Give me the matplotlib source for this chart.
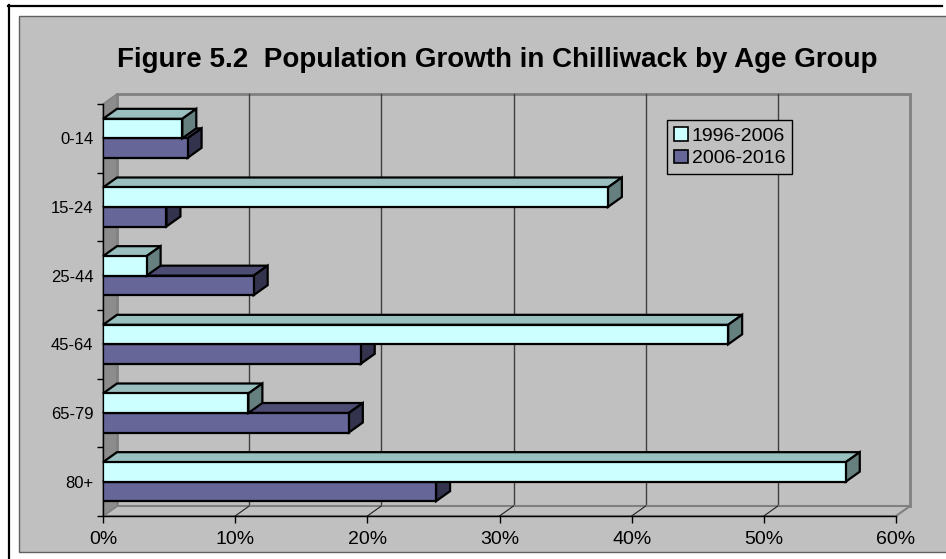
import matplotlib
matplotlib.use('Agg')
import matplotlib.pyplot as plt
import numpy as np
from matplotlib.patches import Polygon, Rectangle
from matplotlib.transforms import ScaledTranslation
from matplotlib.lines import Line2D

# ---------------- data ----------------
title = 'Figure 5.2  Population Growth in Chilliwack by Age Group'
categories = ['0-14', '15-24', '25-44', '45-64', '65-79', '80+']
series_names = ['1996-2006', '2006-2016']
growth_1996_2006 = [6.0, 38.2, 3.3, 47.3, 11.0, 56.2]
growth_2006_2016 = [6.4, 4.8, 11.4, 19.5, 18.6, 25.2]
x_ticks = [0, 10, 20, 30, 40, 50, 60]
x_tick_labels = ['0%', '10%', '20%', '30%', '40%', '50%', '60%']

# ---------------- style ----------------
plt.rcParams['font.family'] = ['Liberation Sans', 'DejaVu Sans']
W, H, DPI = 946, 559, 100
BG = '#C0C0C0'
FRONT = {'1996-2006': '#CCFFFF', '2006-2016': '#666699'}
TOP = {'1996-2006': '#99BFBF', '2006-2016': '#4D4D73'}
SIDE = {'1996-2006': '#668080', '2006-2016': '#33334D'}
DEPTH_X, DEPTH_Y = 14, 10   # 3-D depth in pixels
BAR_H = 0.284

fig = plt.figure(figsize=(W / DPI, H / DPI), dpi=DPI)
fig.patch.set_facecolor('white')


def fx(px):
    return px / W


def fy(py):
    return 1 - py / H


# chart area and outer frame
fig.add_artist(Rectangle((fx(19), fy(552)), 1.01 - fx(19), fy(16) - fy(552),
                         transform=fig.transFigure, facecolor=BG,
                         edgecolor='#606060', lw=1, zorder=0))
fig.add_artist(Line2D([fx(8), fx(942)], [fy(5.5), fy(5.5)], transform=fig.transFigure,
                      color='black', lw=1.6, zorder=1))
fig.add_artist(Line2D([fx(8.5), fx(8.5)], [fy(5), 0], transform=fig.transFigure,
                      color='black', lw=1.6, zorder=1))

ax = fig.add_axes([fx(103), fy(516), fx(896) - fx(103), fy(104) - fy(516)])
ax.set_xlim(0, 60)
ax.set_ylim(5.5, -0.5)
ax.patch.set_visible(False)

back = ax.transData + ScaledTranslation(DEPTH_X / DPI, DEPTH_Y / DPI, fig.dpi_scale_trans)
inv = ax.transData.inverted()


def B(x, y):
    return tuple(inv.transform(back.transform((x, y))))


y0, y1 = -0.5, 5.5
xmax = x_ticks[-1]

# back wall
ax.add_patch(Rectangle((0, y0), xmax, y1 - y0, transform=back, facecolor=BG,
                       edgecolor='#808080', lw=2, zorder=0.5, clip_on=False))
# gridlines on back wall
for xt in x_ticks[1:-1]:
    ax.plot([xt, xt], [y0, y1], transform=back, color='#404040', lw=1,
            zorder=0.6, clip_on=False)
# floor
ax.add_patch(Polygon([(0, y1), (xmax, y1), B(xmax, y1), B(0, y1)], closed=True,
                     facecolor=BG, edgecolor='#808080', lw=1.5, zorder=0.7, clip_on=False))
for xt in x_ticks[1:-1]:
    bx, by = B(xt, y1)
    ax.plot([xt, bx], [y1, by], color='#202020', lw=0.8, zorder=0.8, clip_on=False)
# left wall
ax.add_patch(Polygon([(0, y0), (0, y1), B(0, y1), B(0, y0)], closed=True,
                     facecolor='#8C8C8C', edgecolor='#808080', lw=1, zorder=0.9, clip_on=False))

# bars
ypos = np.arange(len(categories))
bars_a = ax.barh(ypos - BAR_H / 2, growth_1996_2006, height=BAR_H, color=FRONT['1996-2006'],
                 edgecolor='black', lw=1.6, label=series_names[0])
bars_b = ax.barh(ypos + BAR_H / 2, growth_2006_2016, height=BAR_H, color=FRONT['2006-2016'],
                 edgecolor='black', lw=1.6, label=series_names[1])

for i in range(len(categories)):
    for k, (name, cont, vals) in enumerate([(series_names[1], bars_b, growth_2006_2016),
                                            (series_names[0], bars_a, growth_1996_2006)]):
        z = 10 + i * 10 + k * 5
        v = vals[i]
        yc = ypos[i] + (BAR_H / 2 if k == 0 else -BAR_H / 2)
        yt, yb = yc - BAR_H / 2, yc + BAR_H / 2
        ax.add_patch(Polygon([(0, yt), (v, yt), B(v, yt), B(0, yt)], closed=True,
                             facecolor=TOP[name], edgecolor='black', lw=1.6,
                             joinstyle='miter', zorder=z + 1, clip_on=False))
        ax.add_patch(Polygon([(v, yt), (v, yb), B(v, yb), B(v, yt)], closed=True,
                             facecolor=SIDE[name], edgecolor='black', lw=1.6,
                             joinstyle='miter', zorder=z + 2, clip_on=False))
        cont.patches[i].set_zorder(z + 3)
        cont.patches[i].set_joinstyle('miter')

# axes & ticks
for s in ['top', 'right']:
    ax.spines[s].set_visible(False)
for s in ['left', 'bottom']:
    ax.spines[s].set_color('black')
    ax.spines[s].set_linewidth(1)
    ax.spines[s].set_zorder(2)

ax.set_xticks(x_ticks, x_tick_labels)
ax.tick_params(axis='x', direction='out', length=5, width=1, color='black',
               labelsize=14, pad=6)
ax.set_yticks(np.arange(y0, y1 + 0.01, 1.0), [''] * 7)
ax.set_yticks(ypos, categories, minor=True)
ax.tick_params(axis='y', which='major', direction='out', length=4.5, width=1, color='black')
ax.tick_params(axis='y', which='minor', length=0, labelsize=12, pad=7)

leg = ax.legend([bars_a, bars_b], series_names, loc='lower right',
                bbox_to_anchor=(fx(792), fy(174)), bbox_transform=fig.transFigure,
                fontsize=14, frameon=True, fancybox=False, edgecolor='black',
                facecolor=BG, framealpha=1, handlelength=0.7, handleheight=0.7,
                handletextpad=0.2, borderpad=0.35, labelspacing=0.25, borderaxespad=0)
leg.get_frame().set_linewidth(1)
leg.set_zorder(200)
for h in leg.legend_handles:
    h.set_linewidth(1.2)

fig.text(fx(497), fy(60), title, ha='center', va='center', fontsize=20,
         fontweight='bold')

fig.savefig('out.png', dpi=DPI)
